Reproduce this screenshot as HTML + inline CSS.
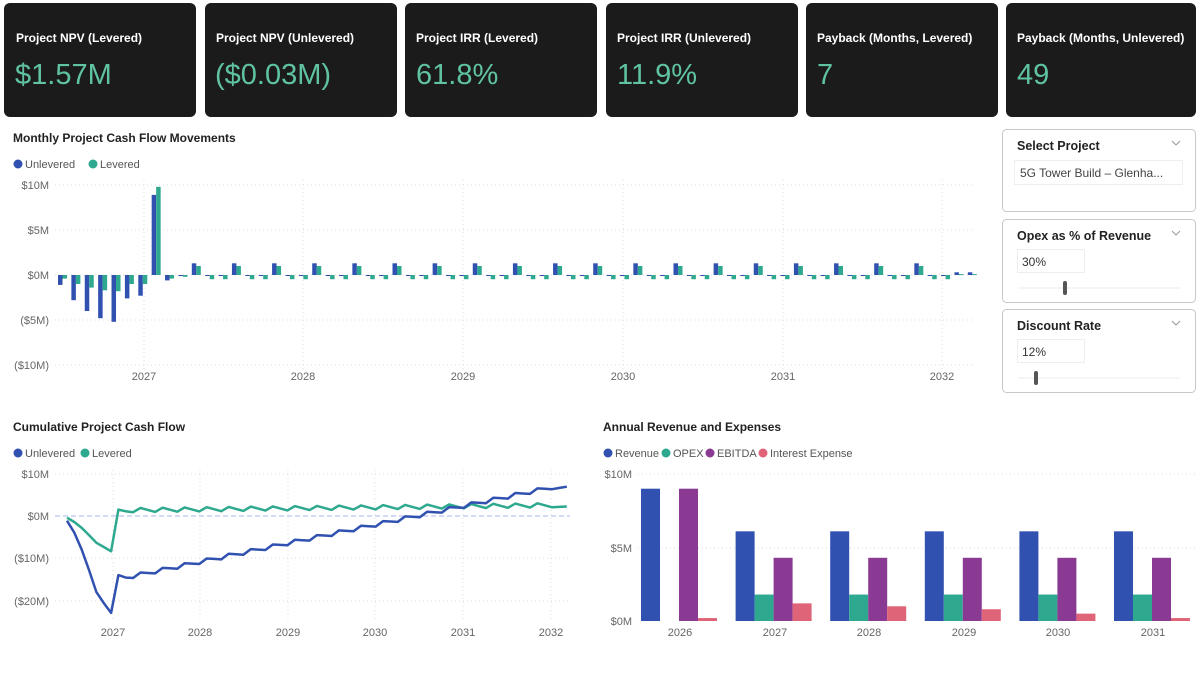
<!DOCTYPE html>
<html><head><meta charset="utf-8"><style>
body{margin:0;background:#fff;width:1200px;height:675px;overflow:hidden;font-family:"Liberation Sans",sans-serif}
svg text{font-family:"Liberation Sans",sans-serif}
</style></head><body>
<svg id="s" width="1200" height="675" xmlns="http://www.w3.org/2000/svg">
<g id="cards" font-weight="bold">
<rect x="4" y="3" width="192" height="114" rx="6" fill="#1b1b1b"/>
<rect x="205" y="3" width="192" height="114" rx="6" fill="#1b1b1b"/>
<rect x="405" y="3" width="192" height="114" rx="6" fill="#1b1b1b"/>
<rect x="606" y="3" width="192" height="114" rx="6" fill="#1b1b1b"/>
<rect x="806" y="3" width="192" height="114" rx="6" fill="#1b1b1b"/>
<rect x="1006" y="3" width="190" height="114" rx="6" fill="#1b1b1b"/>
<g fill="#fff" font-size="12">
<text x="16" y="42">Project NPV (Levered)</text>
<text x="216" y="42">Project NPV (Unlevered)</text>
<text x="416" y="42">Project IRR (Levered)</text>
<text x="617" y="42">Project IRR (Unlevered)</text>
<text x="817" y="42">Payback (Months, Levered)</text>
<text x="1017" y="42">Payback (Months, Unlevered)</text>
</g>
<g fill="#5fc3a0" font-size="29" font-weight="normal">
<text x="15" y="84">$1.57M</text>
<text x="215" y="84">($0.03M)</text>
<text x="416" y="84">61.8%</text>
<text x="617" y="84">11.9%</text>
<text x="817" y="84">7</text>
<text x="1017" y="84">49</text>
</g>
</g>
<g stroke="#c8c8c8" fill="#fff">
<rect x="1002.5" y="129.5" width="193" height="82" rx="4"/>
<rect x="1002.5" y="219.5" width="193" height="83" rx="4"/>
<rect x="1002.5" y="309.5" width="193" height="83" rx="4"/>
</g>
<g font-size="12.5" fill="#222" font-weight="bold">
<text x="1017" y="150">Select Project</text>
<text x="1017" y="240">Opex as % of Revenue</text>
<text x="1017" y="330">Discount Rate</text>
</g>
<g stroke="#999" fill="none" stroke-width="1">
<path d="M1172 141l4 4 4-4M1172 231l4 4 4-4M1172 321l4 4 4-4"/>
<path d="M1166 168l5 5 5-5" stroke="#555"/>
</g>
<rect x="1014.5" y="160.5" width="168" height="24" fill="#fff" stroke="#eee"/>
<text x="1020" y="177" font-size="12" fill="#444">5G Tower Build – Glenha...</text>
<rect x="1017.5" y="249.5" width="67" height="23" fill="#fff" stroke="#eee"/>
<text x="1022" y="266" font-size="12" fill="#333">30%</text>
<rect x="1017.5" y="339.5" width="67" height="23" fill="#fff" stroke="#eee"/>
<text x="1022" y="356" font-size="12" fill="#333">12%</text>
<line x1="1018" y1="288" x2="1180" y2="288" stroke="#f3eaea"/>
<line x1="1018" y1="378" x2="1180" y2="378" stroke="#f3eaea"/>
<rect x="1063" y="281" width="4" height="14" rx="2" fill="#555"/>
<rect x="1034" y="371" width="4" height="14" rx="2" fill="#555"/>

<g font-size="12" fill="#222" font-weight="bold">
<text x="13" y="142">Monthly Project Cash Flow Movements</text>
<text x="13" y="431">Cumulative Project Cash Flow</text>
<text x="603" y="431">Annual Revenue and Expenses</text>
</g>
<g font-size="11" fill="#555">
<circle cx="18" cy="164" r="4.5" fill="#3151b0"/><text x="25" y="168">Unlevered</text>
<circle cx="93" cy="164" r="4.5" fill="#2ea98f"/><text x="100" y="168">Levered</text>
<circle cx="18" cy="453" r="4.5" fill="#3151b0"/><text x="25" y="457">Unlevered</text>
<circle cx="85" cy="453" r="4.5" fill="#2ea98f"/><text x="92" y="457">Levered</text>
<circle cx="608" cy="453" r="4.5" fill="#3151b0"/><text x="615" y="457">Revenue</text>
<circle cx="666" cy="453" r="4.5" fill="#2ea98f"/><text x="673" y="457">OPEX</text>
<circle cx="710" cy="453" r="4.5" fill="#8a3a92"/><text x="717" y="457">EBITDA</text>
<circle cx="763" cy="453" r="4.5" fill="#e06478"/><text x="770" y="457">Interest Expense</text>
</g>
<g font-size="11" fill="#666" text-anchor="end">
<text x="49" y="189">$10M</text><text x="49" y="234">$5M</text><text x="49" y="279">$0M</text>
<text x="49" y="324">($5M)</text><text x="49" y="369">($10M)</text>
<text x="49" y="478">$10M</text><text x="49" y="520">$0M</text><text x="49" y="562">($10M)</text><text x="49" y="605">($20M)</text>
<text x="632" y="478">$10M</text><text x="632" y="552">$5M</text><text x="632" y="625">$0M</text>
</g>
<g font-size="11" fill="#666" text-anchor="middle">
<text x="144" y="380">2027</text><text x="303" y="380">2028</text><text x="463" y="380">2029</text><text x="623" y="380">2030</text><text x="783" y="380">2031</text><text x="942" y="380">2032</text>
<text x="113" y="636">2027</text><text x="200" y="636">2028</text><text x="288" y="636">2029</text><text x="375" y="636">2030</text><text x="463" y="636">2031</text><text x="551" y="636">2032</text>
<text x="680" y="636">2026</text><text x="775" y="636">2027</text><text x="869" y="636">2028</text><text x="964" y="636">2029</text><text x="1058" y="636">2030</text><text x="1153" y="636">2031</text>
</g>
<g stroke="#ddd" stroke-dasharray="1 3">
<path d="M55 185H975M55 230H975M55 275H975M55 320H975M55 365H975"/>
<path d="M144 180V370M303 180V370M463 180V370M623 180V370M783 180V370M942 180V370"/>
<path d="M55 474H570M55 558H570M55 601H570"/>
<path d="M113 470V620M200 470V620M288 470V620M375 470V620M463 470V620M551 470V620"/>
<path d="M638 474H1195M638 548H1195"/>
</g>
<line x1="55" y1="516" x2="570" y2="516" stroke="#aab4ee" stroke-dasharray="5 3"/>
<g id="dyn"></g>
</svg>
<script>
var ns="http://www.w3.org/2000/svg",g=document.getElementById('dyn');
function el(t,a){var e=document.createElementNS(ns,t);for(var k in a)e.setAttribute(k,a[k]);g.appendChild(e);return e}
var U=[-1.1,-2.8,-4.0,-4.8,-5.2,-2.6,-2.3,8.9,-0.6,-0.1],L=[-0.4,-1.0,-1.4,-1.7,-1.8,-1.0,-1.0,9.8,-0.4,-0.2];
for(var k=10;k<=66;k++){if((k-10)%3==0){U.push(1.3);L.push(1.0)}else{U.push(-0.1);L.push(-0.47)}}
U.push(0.3,0.3);L.push(0.1,0.1);
function bar(x,w,v,z,s,c){var y=v>=0?z-v*s:z,h=Math.max(1,Math.abs(v)*s);el('rect',{x:x,y:y,width:w,height:h,fill:c})}
for(var i=0;i<U.length;i++){var x=58+13.38*i;bar(x,4.5,U[i],275,9,'#3151b0');bar(x+4.5,4.5,L[i],275,9,'#2ea98f')}
var cu=0,cl=0,pu=[],pl=[];
for(var i=0;i<U.length;i++){cu+=U[i];cl+=L[i];var x=67+7.35*i;pu.push(x.toFixed(1)+','+(516-cu*4.25).toFixed(1));pl.push(x.toFixed(1)+','+(516-cl*4.25).toFixed(1))}
el('polyline',{points:pl.join(' '),fill:'none',stroke:'#2ea98f','stroke-width':2.5,'stroke-linejoin':'round'});
el('polyline',{points:pu.join(' '),fill:'none',stroke:'#3151b0','stroke-width':2.5,'stroke-linejoin':'round'});
var R=[9,6.1,6.1,6.1,6.1,6.1],O=[0,1.8,1.8,1.8,1.8,1.8],E=[9,4.3,4.3,4.3,4.3,4.3],I=[0.2,1.2,1.0,0.8,0.5,0.2];
for(var j=0;j<6;j++){var c=680+94.6*j;
if(R[j])bar(c-39,19,R[j],621,14.7,'#3151b0');if(O[j])bar(c-20,19,O[j],621,14.7,'#2ea98f');
bar(c-1,19,E[j],621,14.7,'#8a3a92');bar(c+18,19,I[j],621,14.7,'#e06478')}
</script>
</body></html>
